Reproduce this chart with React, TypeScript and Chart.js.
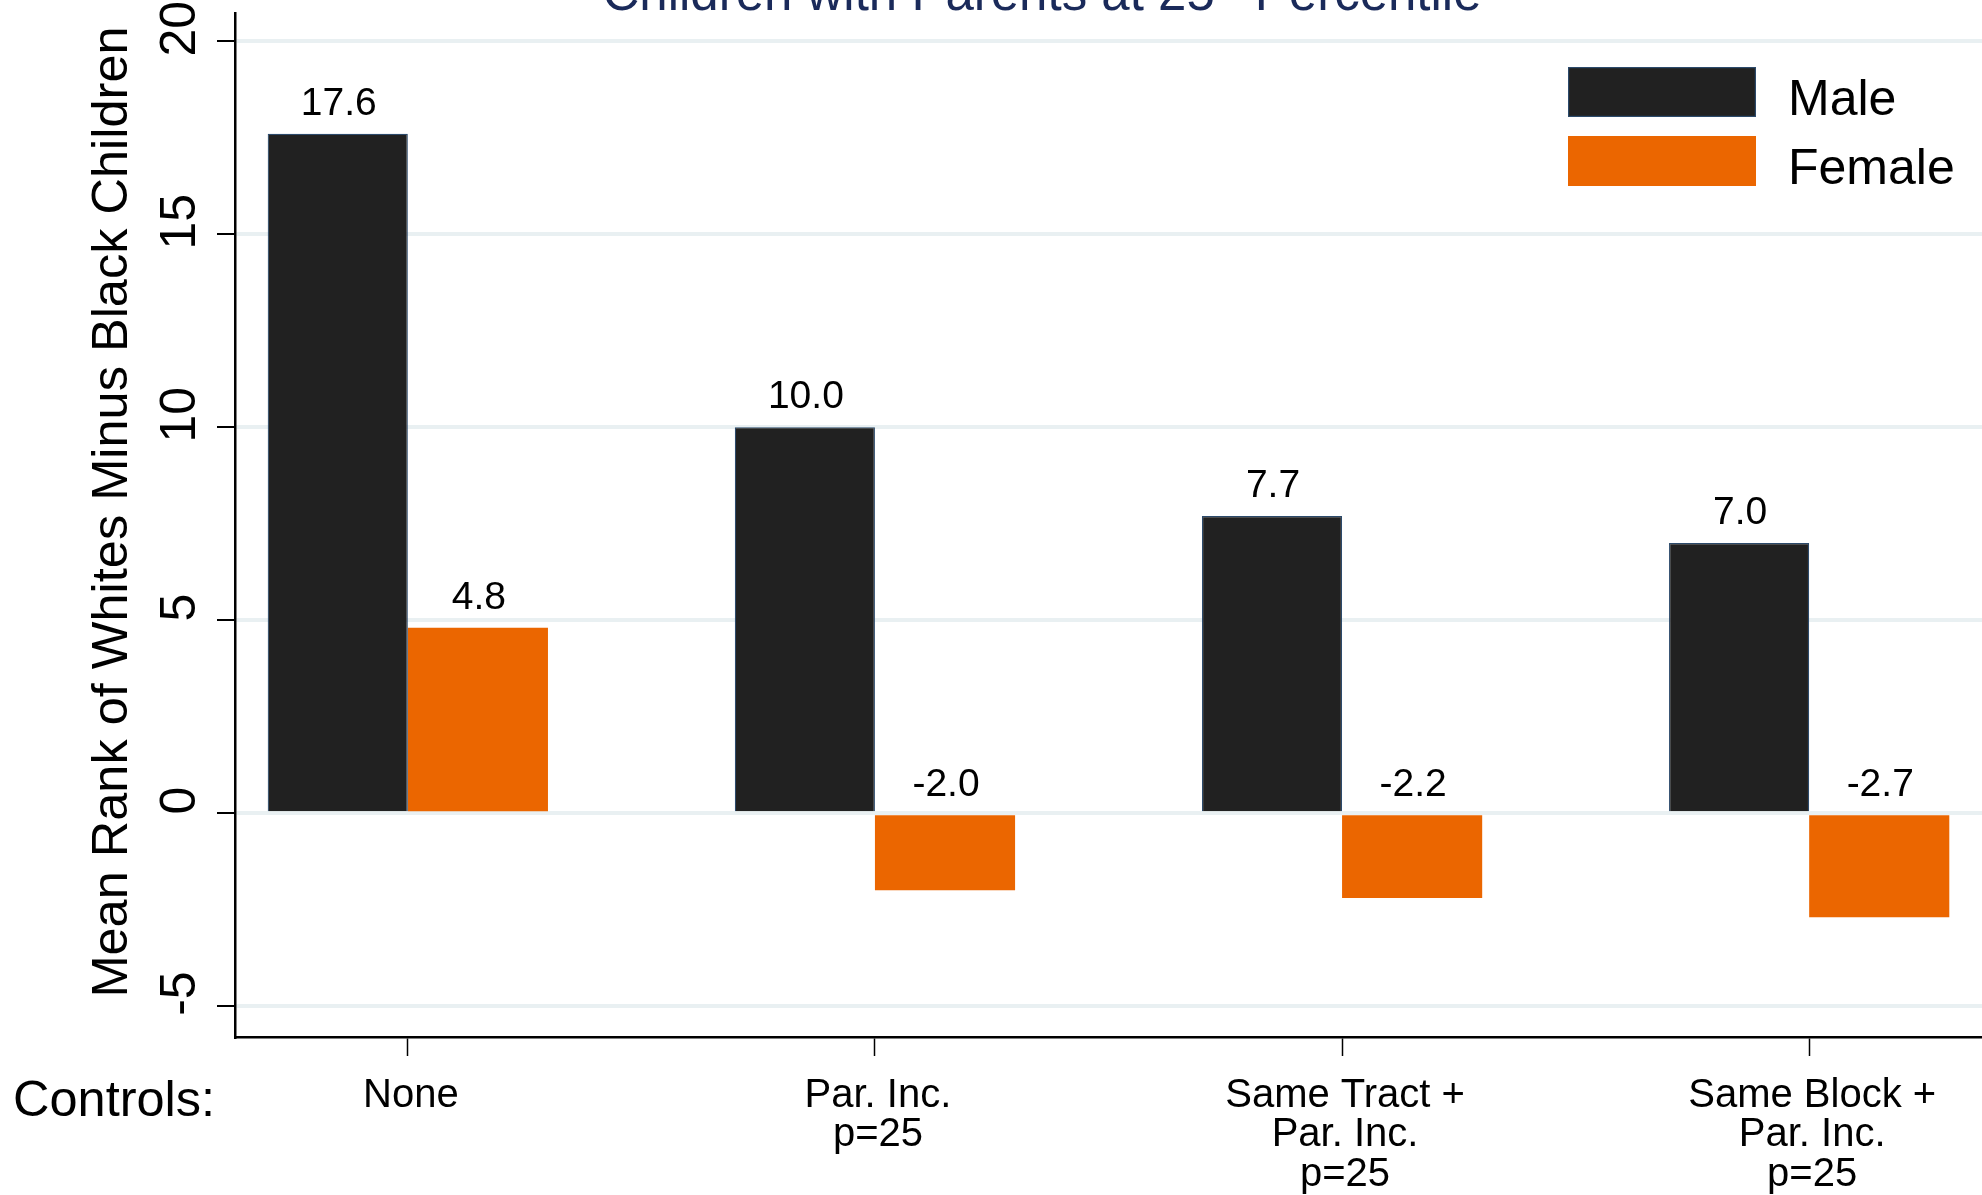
import React, { useEffect, useRef } from "react";
import { Chart, registerables } from "chart.js";

Chart.register(...registerables);

// ---- data ----
const categoryLabels: string[][] = [
  ["None"],
  ["Par. Inc.", "p=25"],
  ["Same Tract +", "Par. Inc.", "p=25"],
  ["Same Block +", "Par. Inc.", "p=25"],
];
const seriesNames = ["Male", "Female"];
const maleValues = [17.6, 10.0, 7.7, 7.0];
const femaleValues = [4.8, -2.0, -2.2, -2.7];
const yTickValues = [-5, 0, 5, 10, 15, 20];
const yAxisTitle = "Mean Rank of Whites Minus Black Children";
const titleMain = "Children with Parents at 25";
const titleSup = "th";
const titleEnd = " Percentile";
const controlsLabel = "Controls:";

const FONT = "'Liberation Sans', Arial, Helvetica, sans-serif";
const MALE_COLOR = "#212121";
const MALE_BORDER = "#2c4a6b";
const FEMALE_COLOR = "#eb6600";
const GRID_COLOR = "#e9f0f2";

const valueLabelPlugin = {
  id: "valueLabels",
  afterDatasetsDraw(chart: any) {
    const ctx = chart.ctx;
    ctx.save();
    ctx.font = `39px ${FONT}`;
    ctx.fillStyle = "#000";
    ctx.textAlign = "center";
    ctx.textBaseline = "alphabetic";
    chart.data.datasets.forEach((ds: any, di: number) => {
      const meta = chart.getDatasetMeta(di);
      meta.data.forEach((el: any, i: number) => {
        const v = ds.data[i].y as number;
        const p = el.getProps(["x", "y", "base"], true);
        ctx.fillText(v.toFixed(1), p.x + 1, Math.min(p.y, p.base) - 19);
      });
    });
    ctx.restore();
  },
};

const decorPlugin = {
  id: "decor",
  afterDraw(chart: any) {
    const ctx = chart.ctx;
    ctx.save();
    // clipped title
    ctx.fillStyle = "#1a2a5a";
    ctx.textBaseline = "alphabetic";
    ctx.textAlign = "left";
    ctx.font = `51px ${FONT}`;
    const w1 = ctx.measureText(titleMain).width;
    const w3 = ctx.measureText(titleEnd).width;
    ctx.font = `31px ${FONT}`;
    const w2 = ctx.measureText(titleSup).width;
    const total = w1 + w2 + w3;
    let x = 1042 - total / 2;
    const by = 9.5;
    ctx.font = `51px ${FONT}`;
    ctx.fillText(titleMain, x, by);
    x += w1;
    ctx.font = `31px ${FONT}`;
    ctx.fillText(titleSup, x, by - 20);
    x += w2;
    ctx.font = `51px ${FONT}`;
    ctx.fillText(titleEnd, x, by);

    // y axis title
    ctx.fillStyle = "#000";
    ctx.save();
    ctx.translate(113, 512);
    ctx.rotate(-Math.PI / 2);
    ctx.textAlign = "center";
    ctx.textBaseline = "middle";
    ctx.font = `50.5px ${FONT}`;
    ctx.fillText(yAxisTitle, 0, 0);
    ctx.restore();

    // Controls label
    ctx.textAlign = "left";
    ctx.textBaseline = "alphabetic";
    ctx.font = `50.5px ${FONT}`;
    ctx.fillText(controlsLabel, 13, 1116);

    // legend
    const boxX = 1568;
    const boxW = 188;
    const boxH = 50;
    const rows = [67, 136];
    chart.data.datasets.forEach((ds: any, i: number) => {
      const y = rows[i];
      ctx.fillStyle = ds.backgroundColor;
      ctx.fillRect(boxX, y, boxW, boxH);
      if (ds.borderWidth) {
        ctx.strokeStyle = ds.borderColor;
        ctx.lineWidth = 1.2;
        ctx.strokeRect(boxX + 0.6, y + 0.6, boxW - 1.2, boxH - 1.2);
      }
      ctx.fillStyle = "#000";
      ctx.font = `50px ${FONT}`;
      ctx.fillText(ds.label, 1788, y + 48);
    });
    ctx.restore();
  },
};

export default function App() {
  const canvasRef = useRef<HTMLCanvasElement | null>(null);

  useEffect(() => {
    const canvas = canvasRef.current;
    if (!canvas) return;
    const chart = new Chart(canvas, {
      type: "bar",
      data: {
        datasets: [
          {
            label: seriesNames[0],
            data: maleValues.map((v, i) => ({ x: i, y: v })),
            backgroundColor: MALE_COLOR,
            borderColor: MALE_BORDER,
            borderWidth: 1.2,
          },
          {
            label: seriesNames[1],
            data: femaleValues.map((v, i) => ({ x: i, y: v })),
            backgroundColor: FEMALE_COLOR,
            borderColor: FEMALE_COLOR,
            borderWidth: 0,
          },
        ],
      },
      options: {
        animation: false,
        responsive: false,
        maintainAspectRatio: false,
        devicePixelRatio: 1,
        categoryPercentage: 0.6,
        barPercentage: 1.0,
        layout: { padding: { top: 13, left: 0, right: 0, bottom: 0 } },
        plugins: {
          legend: { display: false },
          title: { display: false },
          tooltip: { enabled: false },
        },
        scales: {
          x: {
            type: "linear",
            min: -0.37,
            max: 3.37,
            offset: false,
            afterBuildTicks: (axis: any) => {
              axis.ticks = categoryLabels.map((_, i) => ({ value: i }));
            },
            afterFit: (axis: any) => {
              axis.height = 158;
              axis.paddingLeft = 0;
              axis.paddingRight = 0;
            },
            grid: {
              display: true,
              drawOnChartArea: false,
              drawTicks: true,
              tickLength: 19,
              tickColor: "#000",
              tickWidth: 1.5,
              offset: false,
            },
            border: { display: true, color: "#000", width: 2.5 },
            ticks: {
              autoSkip: false,
              maxRotation: 0,
              minRotation: 0,
              padding: 20,
              labelOffset: 3,
              color: "#000",
              font: { family: FONT, size: 40, lineHeight: "39.5px" as any },
              callback: (v: any) => categoryLabels[Number(v)] ?? "",
            },
          },
          y: {
            type: "linear",
            min: -5.8,
            max: 20.73,
            afterBuildTicks: (axis: any) => {
              axis.ticks = yTickValues.map((v) => ({ value: v }));
            },
            afterFit: (axis: any) => {
              axis.width = 235;
              axis.paddingTop = 0;
              axis.paddingBottom = 0;
            },
            grid: {
              display: true,
              drawOnChartArea: true,
              drawTicks: true,
              color: GRID_COLOR,
              lineWidth: 4,
              tickLength: 18,
              tickColor: "#000",
              tickWidth: 2,
            },
            border: { display: true, color: "#000", width: 2.5 },
            ticks: {
              autoSkip: false,
              minRotation: 90,
              maxRotation: 90,
              crossAlign: "center",
              padding: -5,
              color: "#000",
              font: { family: FONT, size: 50 },
              callback: (v: any) => "\u2002" + String(v),
            },
          },
        },
      } as any,
      plugins: [valueLabelPlugin, decorPlugin],
    });
    return () => chart.destroy();
  }, []);

  return (
    <div style={{ position: "fixed", left: 0, top: 0, width: 1982, height: 1195, background: "#fff" }}>
      <canvas ref={canvasRef} width={1982} height={1195} style={{ display: "block", width: 1982, height: 1195 }} />
    </div>
  );
}
